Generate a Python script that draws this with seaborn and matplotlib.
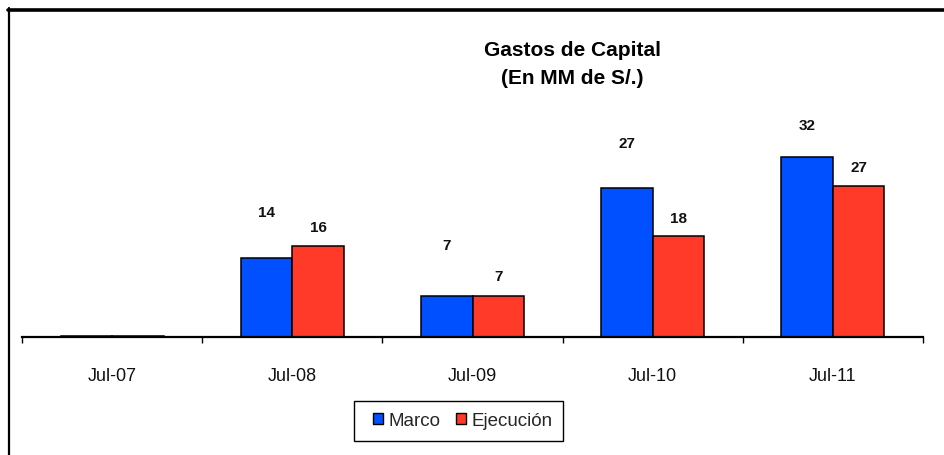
import matplotlib
matplotlib.use("Agg")
import matplotlib.pyplot as plt
from matplotlib.patches import Patch, Rectangle
from matplotlib.lines import Line2D
import seaborn as sns
import pandas as pd

# datos (MM de S/.)
fechas = ["Jul-07", "Jul-08", "Jul-09", "Jul-10", "Jul-11"]
marco = [0.1, 14.1, 7.3, 26.6, 32.1]
ejecucion = [0.1, 16.2, 7.3, 17.9, 26.8]
series = ["Marco", "Ejecución"]

# separacion de las etiquetas sobre cada barra (px), como las deja Excel
off_marco = [0, 46, 51, 45, 32]
off_ejec = [0, 19, 20, 18, 19]

AZUL = "#0050ff"
ROJO = "#ff3a28"

df = pd.DataFrame({
    "fecha": fechas * 2,
    "serie": [series[0]] * len(fechas) + [series[1]] * len(fechas),
    "valor": marco + ejecucion,
})

sns.set_theme(style="white")
plt.rcParams["font.family"] = ["Liberation Sans", "DejaVu Sans"]

W, H = 944, 456
base_y = 337.5
px_por_unidad = 5.6
top_y = 20

fig = plt.figure(figsize=(W / 100, H / 100), dpi=100)
ax = fig.add_axes([22 / W, (H - base_y) / H, 901 / W, (base_y - top_y) / H])

sns.barplot(data=df, x="fecha", y="valor", hue="serie", order=fechas,
            hue_order=series, palette=[AZUL, ROJO], saturation=1, width=0.572, gap=0,
            edgecolor="black", linewidth=1.1, errorbar=None, legend=False, ax=ax)

ax.set_xlim(-0.5, len(fechas) - 0.5)
ax.set_ylim(0, (base_y - top_y) / px_por_unidad)
ax.set_xlabel("")
ax.set_ylabel("")
ax.set_yticks([])
for s in ["left", "top", "right"]:
    ax.spines[s].set_visible(False)
ax.spines["bottom"].set_color("black")
ax.spines["bottom"].set_linewidth(1.6)

ax.set_xticks(range(len(fechas)))
ax.set_xticklabels(fechas, fontsize=13, color="#111111")
ax.set_xticks([i - 0.5 for i in range(len(fechas) + 1)], minor=True)
ax.tick_params(axis="x", which="major", length=0, pad=22)
ax.tick_params(axis="x", which="minor", length=4, width=1, color="black",
               direction="out", bottom=True)

for cont, offs, vals in zip(ax.containers, [off_marco, off_ejec], [marco, ejecucion]):
    for bar, off, v in zip(cont, offs, vals):
        if round(v) == 0:
            continue
        ax.annotate(f"{round(v)}", (bar.get_x() + bar.get_width() / 2, bar.get_height()),
                    xytext=(0, off * 0.72), textcoords="offset points",
                    ha="center", va="center", fontsize=11, fontweight="bold",
                    color="#111111")

fig.text(572 / W, 1 - 51 / H, "Gastos de Capital", ha="center", va="center",
         fontsize=15, fontweight="bold", color="black")
fig.text(572 / W, 1 - 78 / H, "(En MM de S/.)", ha="center", va="center",
         fontsize=15, fontweight="bold", color="black")

# leyenda: caja dibujada aparte porque Excel deja mas aire a la izquierda
fig.add_artist(Rectangle((354 / W, 1 - 442 / H), 209 / W, 40 / H, fill=False,
                         edgecolor="black", linewidth=1, transform=fig.transFigure))
handles = [Patch(facecolor=AZUL, edgecolor="black", linewidth=1),
           Patch(facecolor=ROJO, edgecolor="black", linewidth=1)]
fig.legend(handles, series, loc="center", bbox_to_anchor=(463 / W, 1 - 422 / H),
           ncol=2, fontsize=13.5, frameon=False,
           handlelength=0.53, handleheight=0.53, handletextpad=0.27,
           columnspacing=0.85, borderpad=0.2, borderaxespad=0)

# marco del area del grafico (solo se ven los bordes izquierdo y superior)
fig.add_artist(Line2D([9 / W, 9 / W], [0, 1 - 9 / H], color="black", linewidth=1.6,
                      transform=fig.transFigure))
fig.add_artist(Line2D([8 / W, 1], [1 - 10.8 / H, 1 - 10.8 / H], color="black",
                      linewidth=2.6, transform=fig.transFigure))

fig.savefig("out.png", dpi=100)
